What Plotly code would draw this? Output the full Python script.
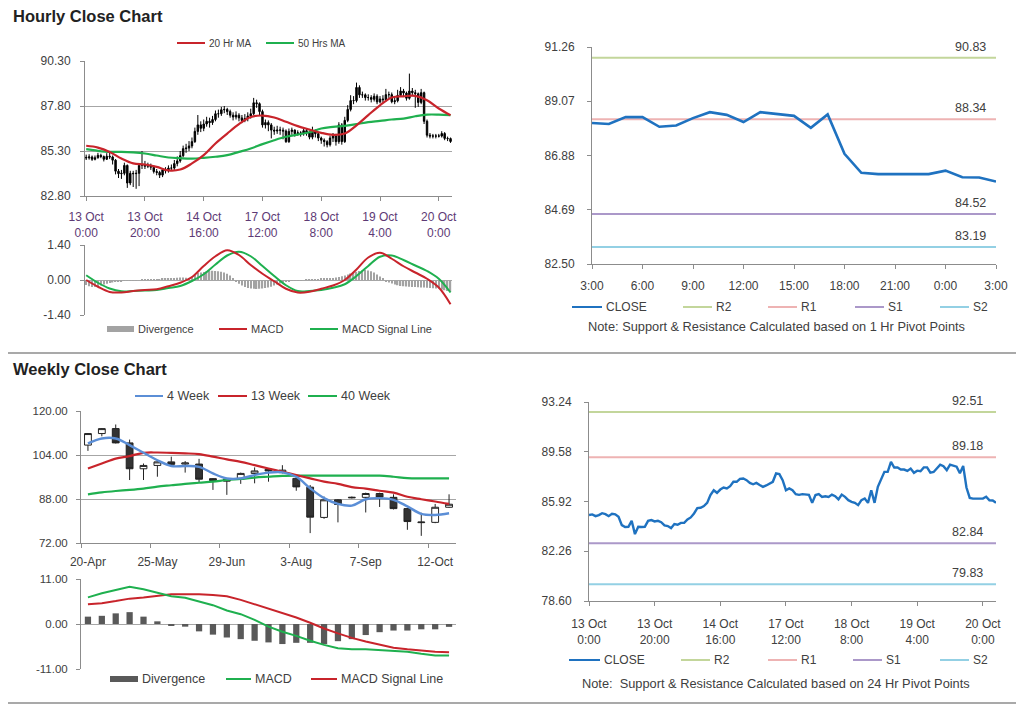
import plotly.graph_objects as go

W, H = 1024, 706
OFF = 8  # page body margin compensation
FONT = "Liberation Sans, Arial, sans-serif"
TXT = "#404040"
XTXT = "#5e3a75"
AX = "#8c8c8c"
GRID = "#a6a6a6"
RED = "#c8242b"
GREEN = "#1fb04f"
BLUE4 = "#5b8ed6"
CLOSE_BLUE = "#1f72c0"

# ---------------- data: hourly ----------------
hourly_tick_idx = [0, 20, 40, 60, 80, 100, 120]
hourly_tick_labels = ["13 Oct<br>0:00", "13 Oct<br>20:00", "14 Oct<br>16:00", "17 Oct<br>12:00",
                      "18 Oct<br>8:00", "19 Oct<br>4:00", "20 Oct<br>0:00"]

hourly_open = [
    84.95, 84.92, 84.97, 84.84, 84.92, 85.06, 84.99, 84.84, 85.01, 84.97,
    84.79, 84.18, 84.04, 84.06, 84.50, 83.52, 84.06, 84.04, 84.06, 84.50,
    84.55, 84.45, 84.50, 84.40, 84.16, 84.11, 83.96, 84.26, 84.21, 84.35,
    84.35, 84.60, 84.75, 85.04, 85.43, 85.46, 85.58, 85.82, 86.39, 86.75,
    86.56, 86.80, 86.95, 86.88, 87.05, 87.37, 87.37, 87.59, 87.61, 87.49,
    87.29, 87.19, 87.29, 87.14, 87.00, 87.10, 87.24, 87.37, 87.98, 87.93,
    87.49, 86.75, 86.88, 86.75, 86.46, 86.41, 86.46, 86.46, 86.41, 85.82,
    86.39, 86.46, 86.26, 86.31, 86.26, 86.43, 86.31, 86.07, 86.43, 86.26,
    86.02, 85.90, 85.82, 85.65, 86.02, 86.14, 85.82, 86.75, 85.82, 87.00,
    87.61, 88.10, 88.10, 88.83, 88.42, 88.42, 88.27, 88.27, 88.17, 88.34,
    88.03, 88.19, 88.15, 88.43, 88.43, 88.04, 88.09, 88.39, 88.63, 88.52,
    88.23, 88.63, 88.54, 88.48, 88.00, 88.54, 86.95, 86.18, 86.13, 86.13,
    86.13, 86.13, 86.27, 86.00, 85.99]
hourly_close = [
    84.92, 84.97, 84.84, 84.92, 85.06, 84.99, 84.84, 85.01, 84.97, 84.79,
    84.18, 84.04, 84.06, 84.50, 83.52, 84.06, 84.04, 84.06, 84.50, 84.55,
    84.45, 84.50, 84.40, 84.16, 84.11, 83.96, 84.26, 84.21, 84.35, 84.35,
    84.60, 84.75, 85.04, 85.43, 85.46, 85.58, 85.82, 86.39, 86.75, 86.56,
    86.80, 86.95, 86.88, 87.05, 87.37, 87.37, 87.59, 87.61, 87.49, 87.29,
    87.19, 87.29, 87.14, 87.00, 87.10, 87.24, 87.37, 87.98, 87.93, 87.49,
    86.75, 86.88, 86.75, 86.46, 86.41, 86.46, 86.46, 86.41, 85.82, 86.39,
    86.46, 86.26, 86.31, 86.26, 86.43, 86.31, 86.07, 86.43, 86.26, 86.02,
    85.90, 85.82, 85.65, 86.02, 86.14, 85.82, 86.75, 85.82, 87.00, 87.61,
    88.10, 88.10, 88.83, 88.42, 88.42, 88.27, 88.27, 88.17, 88.34, 88.03,
    88.19, 88.15, 88.43, 88.43, 88.04, 88.09, 88.39, 88.63, 88.52, 88.23,
    88.63, 88.54, 88.48, 88.00, 88.54, 86.95, 86.18, 86.13, 86.13, 86.13,
    86.13, 86.27, 86.00, 85.99, 85.83]
hourly_high = [
    85.10, 85.12, 85.05, 85.05, 85.20, 85.15, 85.05, 85.18, 85.20, 85.05,
    84.85, 84.30, 84.25, 84.65, 84.55, 84.20, 84.20, 84.25, 84.60, 85.30,
    84.75, 84.65, 84.60, 84.50, 84.30, 84.20, 84.35, 84.40, 84.50, 84.55,
    84.80, 85.00, 85.30, 85.60, 85.70, 85.85, 86.05, 86.60, 87.30, 86.95,
    87.05, 87.20, 87.15, 87.25, 87.55, 87.60, 87.75, 87.80, 87.70, 87.60,
    87.45, 87.50, 87.40, 87.30, 87.35, 87.45, 87.65, 88.25, 88.15, 88.00,
    87.60, 87.05, 87.00, 86.85, 86.65, 86.70, 86.65, 86.60, 86.50, 86.55,
    86.60, 86.50, 86.45, 86.40, 86.60, 86.55, 86.40, 86.65, 86.50, 86.30,
    86.10, 86.00, 85.90, 86.15, 86.30, 86.25, 86.90, 86.85, 87.20, 87.85,
    88.40, 88.35, 89.10, 88.95, 88.60, 88.50, 88.45, 88.40, 88.50, 88.45,
    88.35, 88.40, 88.75, 88.60, 88.55, 88.30, 88.70, 88.85, 88.75, 88.60,
    89.60, 88.80, 88.70, 88.55, 88.75, 88.60, 87.05, 86.30, 86.25, 86.25,
    86.25, 86.40, 86.35, 86.10, 86.05]
hourly_low = [
    84.80, 84.82, 84.75, 84.78, 84.88, 84.90, 84.72, 84.80, 84.85, 84.55,
    84.00, 83.80, 83.75, 83.95, 83.25, 83.40, 83.30, 83.20, 83.35, 84.30,
    84.30, 84.35, 84.25, 84.05, 83.95, 83.80, 83.85, 84.05, 84.10, 84.20,
    84.25, 84.45, 84.65, 84.95, 85.20, 85.30, 85.45, 85.75, 86.20, 86.35,
    86.40, 86.65, 86.60, 86.75, 86.95, 87.15, 87.25, 87.40, 87.30, 87.15,
    87.00, 87.05, 86.95, 86.85, 86.90, 86.95, 87.10, 87.30, 87.70, 87.30,
    86.60, 86.55, 86.40, 86.00, 86.20, 86.25, 86.20, 85.95, 85.75, 85.75,
    86.20, 86.10, 86.15, 86.10, 86.15, 86.15, 85.95, 85.95, 86.05, 85.85,
    85.70, 85.55, 85.50, 85.55, 85.80, 85.60, 85.70, 85.65, 85.75, 86.90,
    87.50, 87.90, 88.00, 88.25, 88.25, 88.10, 88.10, 88.00, 88.05, 87.90,
    87.95, 88.00, 88.05, 88.25, 87.95, 87.90, 88.00, 88.30, 88.35, 88.10,
    88.15, 88.35, 87.70, 87.75, 87.90, 86.80, 86.05, 86.00, 86.00, 86.00,
    86.05, 86.05, 85.90, 85.85, 85.75]

# moving averages / MACD sampled every 4 hours
hourly_ma_idx = [0, 4, 8, 12, 16, 20, 24, 28, 32, 36, 40, 44, 48, 52, 56, 60,
                 64, 68, 72, 76, 80, 84, 88, 92, 96, 100, 104, 108, 112, 116, 120, 124]
ma20 = [85.59, 85.49, 85.25, 84.88, 84.61, 84.55, 84.42, 84.22, 84.27, 84.61, 85.07, 85.72,
        86.27, 86.79, 87.19, 87.27, 87.16, 86.92, 86.68, 86.49, 86.31, 86.20, 86.27, 86.73,
        87.29, 87.84, 88.27, 88.34, 88.36, 88.12, 87.66, 87.29]
ma50 = [85.40, 85.31, 85.25, 85.25, 85.22, 85.16, 85.05, 84.94, 84.90, 84.88, 84.92, 84.98,
        85.07, 85.25, 85.44, 85.68, 85.90, 86.09, 86.21, 86.34, 86.55, 86.64, 86.70, 86.79,
        86.90, 86.97, 87.05, 87.10, 87.23, 87.32, 87.32, 87.29]
hourly_macd = [0.00, -0.27, -0.48, -0.50, -0.44, -0.40, -0.37, -0.25, -0.11, 0.12, 0.56, 0.95,
               1.19, 1.00, 0.60, 0.25, -0.05, -0.35, -0.50, -0.47, -0.35, -0.22, 0.00, 0.42,
               0.90, 1.09, 0.85, 0.55, 0.30, 0.05, -0.30, -0.97]
hourly_signal = [0.19, -0.11, -0.34, -0.45, -0.44, -0.42, -0.40, -0.32, -0.24, -0.04, 0.23, 0.62,
                 0.98, 1.13, 0.95, 0.56, 0.16, -0.21, -0.44, -0.44, -0.40, -0.31, -0.17, 0.16,
                 0.56, 0.93, 0.98, 0.80, 0.58, 0.36, 0.05, -0.50]
hourly_div = [
    -0.20, -0.25, -0.28, -0.28, -0.25, -0.22, -0.18, -0.15, -0.12, -0.10,
    -0.08, -0.06, -0.05, -0.04, -0.03, -0.02, -0.02, -0.01, 0.00, 0.01,
    0.02, 0.02, 0.03, 0.03, 0.03, 0.04, 0.05, 0.05, 0.06, 0.07,
    0.08, 0.09, 0.10, 0.10, 0.09, 0.08, 0.12, 0.20, 0.28, 0.30,
    0.32, 0.34, 0.36, 0.37, 0.36, 0.35, 0.33, 0.30, 0.25, 0.18,
    0.08, -0.05, -0.15, -0.22, -0.28, -0.32, -0.34, -0.35, -0.36, -0.35,
    -0.34, -0.32, -0.30, -0.27, -0.22, -0.18, -0.14, -0.10, -0.07, -0.05,
    -0.04, -0.03, -0.02, -0.01, 0.00, 0.01, 0.02, 0.03, 0.03, 0.04,
    0.05, 0.06, 0.06, 0.07, 0.08, 0.10, 0.12, 0.15, 0.18, 0.22,
    0.26, 0.30, 0.33, 0.36, 0.38, 0.40, 0.38, 0.35, 0.30, 0.22,
    0.14, 0.05, -0.05, -0.10, -0.14, -0.18, -0.21, -0.24, -0.25, -0.26,
    -0.27, -0.28, -0.28, -0.29, -0.30, -0.30, -0.31, -0.32, -0.33, -0.34,
    -0.35, -0.38, -0.41, -0.44, -0.47]

# pivot levels
pivot_names = ["R2", "R1", "S1", "S2"]
pivot_colors = ["#c3d69b", "#eeb3b3", "#ab98c9", "#93d0e4"]
pivot_1h = [90.83, 88.34, 84.52, 83.19]
pivot_24h = [92.51, 89.18, 82.84, 79.83]
day_tick_labels = ["3:00", "6:00", "9:00", "12:00", "15:00", "18:00", "21:00", "0:00", "3:00"]
day_close = hourly_close[-25:]

# ---------------- data: weekly ----------------
week_tick_idx = [0, 5, 10, 15, 20, 25]
week_tick_labels = ["20-Apr", "25-May", "29-Jun", "3-Aug", "7-Sep", "12-Oct"]
week_open = [107.6, 111.8, 113.6, 108.4, 99.0, 100.2, 101.5, 100.7, 100.7, 95.4, 95.3, 95.5, 97.3,
             98.8, 97.6, 95.5, 92.3, 81.3, 87.7, 88.4, 88.6, 90.0, 88.6, 84.5, 79.4, 79.5, 85.0]
week_close = [111.8, 113.6, 108.4, 99.0, 100.2, 101.5, 100.6, 101.1, 95.2, 94.7, 94.5, 97.3, 98.2,
              98.2, 98.5, 92.4, 81.4, 87.7, 86.0, 88.6, 90.0, 88.7, 84.5, 79.8, 79.6, 85.0, 86.1]
week_high = [112.0, 113.8, 115.1, 109.6, 100.9, 101.7, 103.4, 101.8, 102.6, 95.6, 95.6, 97.6, 99.5,
             99.2, 100.3, 96.4, 93.1, 88.9, 87.9, 88.9, 90.3, 90.3, 89.7, 84.8, 83.0, 86.2, 89.7]
week_low = [105.5, 110.8, 108.2, 94.9, 94.9, 96.1, 99.7, 97.6, 94.0, 91.3, 89.5, 93.5, 93.7,
            94.3, 97.3, 91.0, 75.6, 80.8, 79.5, 88.2, 83.1, 85.1, 84.2, 76.8, 74.6, 79.2, 84.8]
ma4w = [108.2, 110.0, 110.0, 107.6, 104.8, 102.1, 100.0, 100.0, 99.7, 97.3, 95.5, 95.5, 96.7,
        97.6, 97.7, 96.1, 91.9, 88.3, 86.2, 85.6, 87.9, 88.3, 87.7, 85.3, 82.6, 82.2, 82.8]
ma13w = [99.1, 100.9, 102.7, 103.6, 104.8, 104.9, 104.8, 104.6, 104.3, 103.4, 102.4, 101.5, 100.3,
         99.1, 97.9, 96.7, 95.5, 94.3, 93.5, 92.3, 91.8, 91.0, 90.3, 88.8, 87.9, 87.1, 86.2]
ma40w = [89.7, 90.4, 90.9, 91.3, 91.8, 92.5, 93.0, 93.5, 93.9, 94.3, 94.9, 95.3, 95.8,
         96.1, 96.4, 96.5, 96.5, 96.5, 96.5, 96.5, 96.5, 96.5, 96.1, 95.6, 95.5, 95.5, 95.5]
week_macd = [6.5, 7.5, 8.3, 9.1, 8.5, 7.7, 6.8, 6.4, 5.5, 4.6, 3.3, 2.4, 1.0,
             -0.65, -1.9, -2.9, -4.1, -5.1, -5.9, -6.2, -6.2, -6.4, -6.6, -6.8, -7.3, -7.7, -7.7]
week_signal = [4.8, 5.1, 5.6, 6.2, 6.5, 6.9, 7.3, 7.3, 7.3, 7.1, 6.8, 5.9, 4.8,
               3.7, 2.6, 1.6, 0.3, -1.1, -2.3, -3.4, -4.3, -5.1, -5.8, -6.2, -6.5, -6.8, -6.9]
week_div = [1.8, 2.0, 2.6, 2.9, 1.8, 0.65, -0.4, -0.65, -1.8, -2.6, -3.3, -3.7, -4.1,
            -4.5, -4.9, -4.6, -4.6, -4.9, -4.2, -3.7, -2.7, -2.0, -1.6, -1.6, -1.3, -1.3, -0.7]


# ---------------- helpers ----------------
def px(x):
    return (x - OFF) / W


def py(y):
    return 1 - (y - OFF) / H


def fmt(vals):
    return [f"{v:.2f}" for v in vals]


def yaxis(top, bottom, rng, ticks, grid, anchor, size=12, standoff=4):
    return dict(domain=[py(bottom), py(top)], range=rng, tickvals=ticks, ticktext=fmt(ticks),
                showgrid=grid, gridcolor=GRID, gridwidth=1, showline=True, linecolor=AX,
                ticks="outside", ticklen=4, tickcolor=AX, zeroline=False, anchor=anchor,
                automargin=False, ticklabelstandoff=standoff,
                tickfont=dict(size=size, color=TXT, family=FONT), fixedrange=True)


def xaxis(left, right, rng, anchor, tickvals=None, ticktext=None, color=TXT, size=12, standoff=6):
    d = dict(domain=[px(left), px(right)], range=rng, showgrid=False, showline=True, linecolor=AX,
             zeroline=False, anchor=anchor, fixedrange=True, automargin=False,
             tickfont=dict(size=size, color=color, family=FONT))
    if tickvals is None:
        d.update(showticklabels=False, ticks="")
    else:
        d.update(tickvals=tickvals, ticktext=ticktext, ticks="outside", ticklen=4, tickcolor=AX,
                 ticklabelstandoff=standoff)
    d["rangeslider"] = dict(visible=False)
    return d


fig = go.Figure()
hx = list(range(len(hourly_close)))
wx = list(range(len(week_close)))

# --- top-left: hourly candles ---
fig.add_trace(go.Candlestick(x=hx, open=hourly_open, high=hourly_high, low=hourly_low,
                             close=hourly_close, xaxis="x", yaxis="y", whiskerwidth=0,
                             increasing=dict(line=dict(color="black", width=1), fillcolor="black"),
                             decreasing=dict(line=dict(color="black", width=1), fillcolor="black"),
                             showlegend=False, hoverinfo="skip"))
fig.add_trace(go.Scatter(x=hourly_ma_idx, y=ma50, mode="lines", line=dict(color=GREEN, width=2.2, shape="spline"),
                         xaxis="x", yaxis="y", showlegend=False))
fig.add_trace(go.Scatter(x=hourly_ma_idx, y=ma20, mode="lines", line=dict(color=RED, width=2.2, shape="spline"),
                         xaxis="x", yaxis="y", showlegend=False))

# --- hourly MACD ---
fig.add_trace(go.Bar(x=hx, y=hourly_div, marker=dict(color="#a3a3a3", line=dict(width=0)), width=0.45,
                     xaxis="x2", yaxis="y2", showlegend=False))
fig.add_trace(go.Scatter(x=hourly_ma_idx, y=hourly_signal, mode="lines", line=dict(color=GREEN, width=2, shape="spline"),
                         xaxis="x2", yaxis="y2", showlegend=False))
fig.add_trace(go.Scatter(x=hourly_ma_idx, y=hourly_macd, mode="lines", line=dict(color=RED, width=2, shape="spline"),
                         xaxis="x2", yaxis="y2", showlegend=False))

# --- top-right: last 24h with 1h pivots ---
for name, col, val in zip(pivot_names, pivot_colors, pivot_1h):
    fig.add_trace(go.Scatter(x=[0, len(day_close) - 1], y=[val, val], mode="lines",
                             line=dict(color=col, width=2), xaxis="x3", yaxis="y3", showlegend=False))
fig.add_trace(go.Scatter(x=list(range(len(day_close))), y=day_close, mode="lines",
                         line=dict(color=CLOSE_BLUE, width=2.6), xaxis="x3", yaxis="y3", showlegend=False))

# --- bottom-right: hourly close with 24h pivots ---
for name, col, val in zip(pivot_names, pivot_colors, pivot_24h):
    fig.add_trace(go.Scatter(x=[0, len(hourly_close) - 1], y=[val, val], mode="lines",
                             line=dict(color=col, width=2), xaxis="x4", yaxis="y4", showlegend=False))
fig.add_trace(go.Scatter(x=hx, y=hourly_close, mode="lines", line=dict(color=CLOSE_BLUE, width=2.4),
                         xaxis="x4", yaxis="y4", showlegend=False))

# --- weekly candles ---
fig.add_trace(go.Candlestick(x=wx, open=week_open, high=week_high, low=week_low, close=week_close,
                             xaxis="x5", yaxis="y5", whiskerwidth=0,
                             increasing=dict(line=dict(color="#222222", width=1), fillcolor="white"),
                             decreasing=dict(line=dict(color="#222222", width=1), fillcolor="#333333"),
                             showlegend=False, hoverinfo="skip"))
fig.add_trace(go.Scatter(x=wx, y=ma40w, mode="lines", line=dict(color=GREEN, width=2.2, shape="spline"),
                         xaxis="x5", yaxis="y5", showlegend=False))
fig.add_trace(go.Scatter(x=wx, y=ma13w, mode="lines", line=dict(color=RED, width=2.2, shape="spline"),
                         xaxis="x5", yaxis="y5", showlegend=False))
fig.add_trace(go.Scatter(x=wx, y=ma4w, mode="lines", line=dict(color=BLUE4, width=2.4, shape="spline"),
                         xaxis="x5", yaxis="y5", showlegend=False))

# --- weekly MACD ---
fig.add_trace(go.Bar(x=wx, y=week_div, marker=dict(color="#595959", line=dict(width=0)), width=0.45,
                     xaxis="x6", yaxis="y6", showlegend=False))
fig.add_trace(go.Scatter(x=wx, y=week_signal, mode="lines", line=dict(color=RED, width=2),
                         xaxis="x6", yaxis="y6", showlegend=False))
fig.add_trace(go.Scatter(x=wx, y=week_macd, mode="lines", line=dict(color=GREEN, width=2),
                         xaxis="x6", yaxis="y6", showlegend=False))

# ---------------- axes ----------------
n_h = len(hourly_close)
fig.update_layout(
    xaxis=xaxis(85, 452, [-0.4, n_h - 0.5], "y", hourly_tick_idx, hourly_tick_labels, color=XTXT, standoff=6),
    yaxis=yaxis(61, 196, [82.8, 90.3], [82.8, 85.3, 87.8, 90.3], True, "x", standoff=7),
    xaxis2=xaxis(85, 452, [-0.4, n_h - 0.5], "y2"),
    yaxis2=yaxis(245, 315, [-1.4, 1.4], [-1.4, 0.0, 1.4], True, "x2", standoff=7),
    xaxis3=xaxis(592, 996, [0, len(day_close) - 1], "y3", list(range(0, 25, 3)), day_tick_labels, standoff=7),
    yaxis3=yaxis(47, 264, [82.5, 91.26], [82.50, 84.69, 86.88, 89.07, 91.26], False, "x3", standoff=10),
    xaxis4=xaxis(589, 996, [0, n_h - 1], "y4", hourly_tick_idx, hourly_tick_labels, standoff=8),
    yaxis4=yaxis(402, 601, [78.6, 93.24], [78.60, 82.26, 85.92, 89.58, 93.24], False, "x4", standoff=10),
    xaxis5=xaxis(81, 456, [-0.5, len(week_close) - 0.5], "y5", week_tick_idx, week_tick_labels, standoff=8),
    yaxis5=yaxis(411, 543, [72, 120], [72, 88, 104, 120], True, "x5", size=11.5, standoff=6),
    xaxis6=xaxis(81, 456, [-0.5, len(week_close) - 0.5], "y6"),
    yaxis6=yaxis(579, 669, [-11, 11], [-11, 0, 11], True, "x6", size=11.5, standoff=6),
)
fig.layout.xaxis5.update(ticks="", minor=dict(tickvals=[-0.5, 4.5, 9.5, 14.5, 19.5, 24.5],
                                              ticks="outside", ticklen=4, tickcolor=AX))
fig.layout.xaxis2.update(showline=False)
fig.layout.xaxis6.update(showline=False)

# ---------------- annotations / legends ----------------
shapes = []
annotations = []


def text(x, y, s, size=11, anchor="left", bold=False, color=TXT):
    annotations.append(dict(x=px(x), y=py(y), xref="paper", yref="paper", text=f"<b>{s}</b>" if bold else s,
                            showarrow=False, xanchor=anchor, yanchor="middle", borderpad=0,
                            font=dict(size=size, color=color, family=FONT)))


def legend(items, y, size=11):
    for label, color, kind, x0, x1 in items:
        if kind == "line":
            shapes.append(dict(type="line", xref="paper", yref="paper", x0=px(x0), x1=px(x1),
                               y0=py(y), y1=py(y), line=dict(color=color, width=2)))
        else:
            shapes.append(dict(type="rect", xref="paper", yref="paper", x0=px(x0), x1=px(x1),
                               y0=py(y + 3), y1=py(y - 3), line=dict(width=0), fillcolor=color))
        text(x1 + 3, y, label, size=size)


text(12, 16, "Hourly Close Chart", size=16.5, bold=True, color="#222222")
text(12, 369, "Weekly Close Chart", size=16.5, bold=True, color="#222222")

legend([("20 Hr MA", RED, "line", 177, 205), ("50 Hrs MA", GREEN, "line", 266, 294)], 43, size=10)
legend([("Divergence", "#a3a3a3", "bar", 107, 134), ("MACD", RED, "line", 219, 247),
        ("MACD Signal Line", GREEN, "line", 310, 338)], 329, size=11)
legend([("CLOSE", CLOSE_BLUE, "line", 572, 602)] +
       [(n, c, "line", x0, x0 + 29) for n, c, x0 in zip(pivot_names, pivot_colors, [683, 768, 855, 940])],
       307, size=12)
text(776, 327, "Note: Support & Resistance Calculated based on 1 Hr Pivot Points", size=12.8, anchor="center")
legend([("CLOSE", CLOSE_BLUE, "line", 569, 600)] +
       [(n, c, "line", x0, x0 + 29) for n, c, x0 in zip(pivot_names, pivot_colors, [681, 768, 853, 940])],
       660, size=12)
text(776, 683, "Note:  Support & Resistance Calculated based on 24 Hr Pivot Points", size=12.8, anchor="center")
legend([("4 Week", BLUE4, "line", 135, 163), ("13 Week", RED, "line", 218, 247),
        ("40 Week", GREEN, "line", 308, 337)], 396, size=12.5)
legend([("Divergence", "#595959", "bar", 110, 138), ("MACD", GREEN, "line", 226, 251),
        ("MACD Signal Line", RED, "line", 311, 337)], 679, size=12.5)

# pivot value labels
for val in pivot_1h:
    annotations.append(dict(x=23.5, y=val, xref="x3", yref="y3", text=f"{val:.2f}", showarrow=False,
                            xanchor="right", yanchor="bottom", yshift=2,
                            font=dict(size=12.5, color=TXT, family=FONT)))
for val in pivot_24h:
    annotations.append(dict(x=120.5, y=val, xref="x4", yref="y4", text=f"{val:.2f}", showarrow=False,
                            xanchor="right", yanchor="bottom", yshift=2,
                            font=dict(size=12.5, color=TXT, family=FONT)))

# separators
for yy in (353, 703):
    shapes.append(dict(type="line", xref="paper", yref="paper", x0=px(7), x1=px(1024), y0=py(yy), y1=py(yy),
                       line=dict(color="#a9a9a9", width=2)))

fig.update_layout(width=W, height=H, margin=dict(l=0, r=0, t=0, b=0, pad=0, autoexpand=False),
                  paper_bgcolor="white", plot_bgcolor="white", showlegend=False, shapes=shapes,
                  annotations=annotations, font=dict(family=FONT, color=TXT), bargap=0.5)

fig.write_html("out.html")
